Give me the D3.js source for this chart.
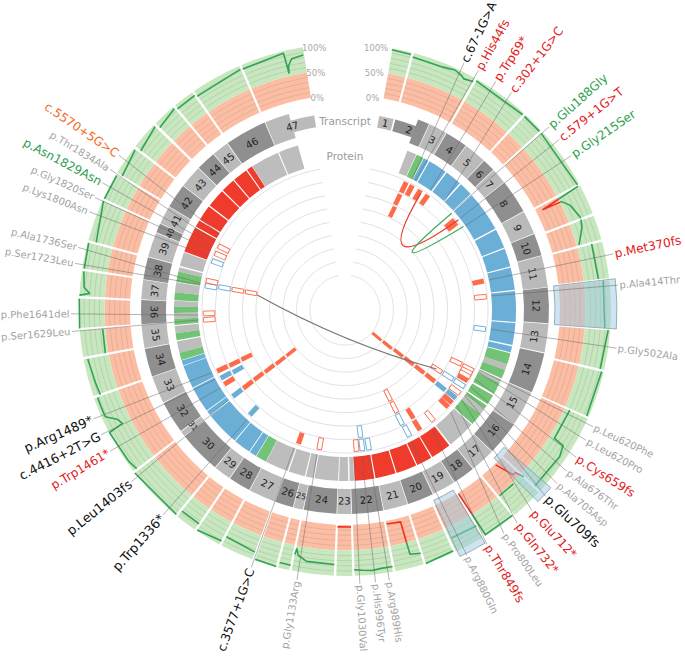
<!DOCTYPE html>
<html><head><meta charset="utf-8">
<style>html,body{margin:0;padding:0;background:#fff}svg{display:block}text{font-family:"DejaVu Sans",sans-serif}</style>
<script src="https://cdnjs.cloudflare.com/ajax/libs/d3/7.8.5/d3.min.js"></script>
</head><body><div id="c"></div>
<script>
// exon end angles in degrees (exon n runs from its start to its end)
const exonStarts = [10,14.8,24.5,29.9,36.5,43,46.8,51.4,61.2,68.1,74.6,83.7,93.9,102.3,114,124.2,134,141.2,147.7,154.5,162.2,169.2,178.2,182.4,191.9,194.8,200.2,208,214.5,219.6,231.9,233.6,243,251,259.2,266,273,278.7,285.2,292.4,295.2,300.5,307.6,314.2,320,324.9,337];
const exonEnds   = [14.3,24.3,29.7,36.3,42.8,46.6,51.2,61,67.9,74.4,83.5,93.7,102,113.8,124,133.8,141,147.5,154.3,162,169,178,182.2,191.7,194.6,200,207.8,214.3,219.4,231.7,233.4,242.8,250.8,259,265.8,272.8,278.5,285,292.2,295,300.3,307.4,314,319.8,324.7,336.8,351];
const utrRanges = [[10,14.3],[14.8,21],[344,351]];

const proteinGrey = [[21.4,24.6],[108.5,110.5],[114,115.3],[125.3,127.5],[132.2,141.8],[176.9,178.4],[178.9,182],[182.3,190.3],[190.6,193.2],[193.6,199.2],[199.6,207.5],[255.5,259.4],[262.2,264.6],[267,269],[271.2,273.1],[276,279.3],[283,284.5],[285,289.7],[327.1,336.9],[337.3,344]];
const proteinGreen = [[24.8,27.3],[104.7,108.5],[110.5,113.6],[115.3,119.3],[120,123.4],[124,125.3],[127.5,131.8],[207.6,211.2],[253,255.5],[259.8,262.2],[265,267],[269,271.2],[273.3,276],[279.5,283]];
const proteinBlue = [[27.5,29.2],[29.6,36],[36.5,42.2],[42.7,47.3],[47.8,61.5],[62,68.6],[69,75.2],[75.6,83.2],[83.6,94],[94.4,101.8],[102.3,104.4],[211.4,213.8],[214.1,219.9],[220.2,231.8],[232.1,233.7],[234,242.7],[243,250.9],[251.1,252.8]];
const proteinRed = [[142.4,149.3],[149.7,155],[155.4,162.4],[162.8,169.7],[170.1,176.7],[290,298.8],[299.2,301.6],[302,307.2],[307.7,314],[314.4,319.2],[319.6,324.7],[325.1,327]];

const coverageBands = [[10.2,14.6],[14.9,29.4],[29.7,42.4],[42.7,47.5],[47.8,61.7],[62,68.8],[69.1,74.7],[75,83.2],[83.5,94],[94.3,103.1],[103.4,113.8],[114,132.9],[133.2,140.5],[140.8,148.4],[148.7,155.5],[155.8,162.4],[162.7,169.2],[169.5,178],[178.3,182],[182.3,191.7],[192,194.7],[195,199.9],[200.3,207.8],[208.1,214],[214.3,219.2],[219.5,232.3],[232.6,250.7],[251,259.4],[259.7,265.7],[266,272.6],[272.9,278.6],[278.9,284.8],[285.1,294.4],[294.7,300.7],[301,307.6],[307.9,314.1],[314.5,319.9],[320.2,325],[325.3,336.7],[337,351]];
const coverageTicks = [0,10,20,30,40,50,60,70,80,90,100];

const coverageRuns = [
 [[10.2,97],[14.5,96]],
 [[15,92],[22,92],[24.6,96],[26.4,92],[27.2,88],[29.3,92]],
 [[29.8,96],[42.3,96]],
 [[42.8,96],[47.4,96]],
 [[48,96],[61.7,96]],
 [[62,96],[63.1,14],[63.4,53],[65,65],[68.3,74],[68.7,74]],
 [[69,74],[70.6,71],[72,65],[74.1,56],[74.5,55]],
 [[75,79],[83,79]],
 [[83.5,88],[94,89]],
 [[94.3,96],[103,92]],
 [[103.5,96],[113.7,96]],
 [[114,61],[121.5,60],[121.9,82],[124.3,88],[132.8,86]],
 [[133,58],[133.6,41],[134.4,40],[135.8,2]],
 [[135.9,53],[140.2,52]],
 [[140.8,98],[148,98],[148.1,56],[148.3,2]],
 [[148.7,74],[155,72]],
 [[155.8,96],[162.3,100]],
 [[162.7,78],[165.1,74],[165.2,45],[165.3,8],[169,6]],
 [[169.5,90],[172,90],[174,92],[176,90],[178,88]],
 [[178.4,4],[182,4]],
 [[182.4,78],[188.7,77],[190.8,68],[191.4,56],[191.6,68]],
 [[192,90],[194.5,90]],
 [[195,99],[199.8,98]],
 [[200.4,85],[207.6,80]],
 [[208.1,92],[213.9,98]],
 [[214.3,86],[219,86]],
 [[219.5,98],[232.2,100]],
 [[232.7,92],[235,96],[242.5,99],[243,68],[244.4,74],[246,93],[248.5,93],[250.5,93]],
 [[250.9,86],[253.6,88],[259.2,92]],
 [[259.8,56],[265.5,55]],
 [[266,100],[272.4,100]],
 [[273.2,100],[273.7,80],[275,92],[278.4,96]],
 [[279,96],[284.7,98]],
 [[285.2,84],[294.3,98]],
 [[294.8,98],[300.5,98]],
 [[301,88],[307.3,96]],
 [[307.9,86],[314,96]],
 [[314.6,88],[319.7,96]],
 [[320.2,92],[325,92]],
 [[325.3,88],[336.5,93]],
 [[337,92],[346.5,96],[346.6,80],[346.7,56],[347,70],[348,82],[350.7,85]]
];

const highlightBoxes = [[83.4,94],[130.8,134.8],[149,155]];

// mark kinds: o orange filled, b blue filled, O orange hollow, B blue hollow
const markAngles = [25.6,28.4,32.2,35.8,25.5,25.8,50.6,52,78.2,84.6,97.8,115,115.4,116.8,118.3,120,122.8,122.7,122.7,130,129.6,128.8,128.7,128.6,128.5,128.6,128.5,126,130.9,133.2,141.4,148,147.7,152.9,153.4,153.1,153.2,170.2,172.9,175.3,173,190.5,199.2,222.2,232.4,232.4,232.4,232.2,231.9,231.9,238.4,241.2,244.4,240.9,244.3,244.4,266,268.6,279.9,280.4,280.4,280.4,282,290.3,293.6,296.8];
const markTracks = [7,7,7,7,6,5,7,7,7,7,7,6,7,7,7,7,5,6,7,0,1,2,3,4,5,6,7,7,7,7,7,7,6,7,6,5,4,7,7,7,6,7,7,7,7,6,5,4,3,2,7,7,7,6,6,5,7,7,7,6,5,4,7,7,7,7];
const markKinds  = ["o","o","o","o","o","o","o","o","o","O","B","O","O","O","O","o","O","B","B","o","o","o","o","o","o","b","b","O","o","o","O","o","o","B","B","O","O","B","B","O","B","O","o","b","b","o","o","o","o","o","o","b","o","b","o","o","O","O","B","B","O","O","O","B","O","O"];

const linkEnds = [[33,139,51.5,145,"#e8402a"],[47.8,144,54.8,145,"#41ab5d"],[279.7,89,122.8,109,"#777777"]];

const variantNames = ["c.67-1G>A","p.His44fs","p.Trp69*","c.302+1G>C","p.Glu188Gly","c.579+1G>T","p.Gly215Ser","p.Met370fs","p.Ala414Thr","p.Gly502Ala","p.Leu620Phe","p.Leu620Pro","p.Cys659fs","p.Ala676Thr","p.Ala705Asp","p.Glu709fs","p.Glu712*","p.Gln732*","p.Pro800Leu","p.Thr849fs","p.Arg880Gln","p.Arg989His","p.His996Tyr","p.Gly1030Val","p.Gly1133Arg","c.3577+1G>C","p.Trp1336*","p.Leu1403fs","p.Trp1461*","c.4416+2T>G","p.Arg1489*","p.Ser1629Leu","p.Phe1641del","p.Ser1723Leu","p.Ala1736Ser","p.Lys1800Asn","p.Gly1820Ser","p.Asn1829Asn","p.Thr1834Ala","c.5570+5G>C"];
const variantKinds = ["k","r","r","r","g","r","g","r","n","n","n","n","r","n","n","k","r","r","n","r","n","n","n","n","n","k","k","k","r","k","k","n","n","n","n","n","n","g","n","o"];
const variantLabelAngles = [25.7,29.1,33.4,37.4,48.1,51.5,55.7,78.2,84.8,98,115.2,118.4,122.5,126,129.3,132.9,137,141.1,144.6,148.8,153.6,170.7,173.6,176.9,190.1,200,221.6,231.2,239,242.9,246.6,265.5,269.2,279.8,283.2,291,294.2,297.7,300.9,304.4];
const variantInnerAngles = [27.1,28.5,35.5,42.5,47.5,51.5,55,78.2,84.5,97.5,114,115,118,121.5,124,125.5,127.5,130.5,134,143.7,153.2,170.6,173.4,176.5,191,200.3,221.8,232.3,238,241.9,244.8,266.1,268,280,280.5,291.5,294.1,296,297.8,301.2];

const tickLabels = ["0%","50%","100%"];
const tickValues = [0,50,100];
const trackLabels = ["Transcript","Protein"];

const W=685,H=656,cx=345,cy=310;
const ang = d3.scaleLinear().domain([0,360]).range([0,2*Math.PI]);
const covR = d3.scaleLinear().domain([0,100]).range([215,266]);
const trackR = d3.scaleLinear().domain([0,7]).range([41.5,136]);
const ringR = d3.scaleLinear().domain([0,8]).range([35,143]);
const arc = d3.arc();
const pol=(a,r)=>[r*Math.sin(ang(a)),-r*Math.cos(ang(a))];
const svg=d3.select("#c").append("svg").attr("width",W).attr("height",H);
const g=svg.append("g").attr("transform",`translate(${cx},${cy})`);
const arcP=(a0,a1,r0,r1)=>arc({startAngle:ang(a0),endAngle:ang(a1),innerRadius:r0,outerRadius:r1});
const bandPad=0.12;

// inner rings
g.append("g").selectAll("path").data(d3.range(0,9)).join("path")
 .attr("d",d=>d3.line()(d3.range(10,350.5,1).map(a=>pol(a,ringR(d)))))
 .attr("fill","none").attr("stroke",d=>d>=7?"#dfe1ea":"#e0e0e0").attr("stroke-width",1);

// coverage bands
const cov=g.append("g");
cov.selectAll(".o").data(coverageBands).join("path").attr("d",d=>arcP(d[0]+bandPad,d[1]-bandPad,covR(0),covR(50))).attr("fill","#fdbda3");
cov.selectAll(".gb").data(coverageBands).join("path").attr("d",d=>arcP(d[0]+bandPad,d[1]-bandPad,covR(50),covR(100))).attr("fill","#c7e7bf");
coverageTicks.slice(1,10).forEach(t=>{
 if(t===50)return;
 cov.append("g").selectAll("path").data(coverageBands).join("path")
  .attr("d",d=>d3.line()(d3.range(d[0]+bandPad,d[1]-bandPad,0.5).concat([d[1]-bandPad]).map(a=>pol(a,covR(t)))))
  .attr("fill","none").attr("stroke","#8a8a8a").attr("stroke-opacity",.42).attr("stroke-width",.6);
});

// coverage line, split at 50%
const defs=svg.append("defs");
defs.append("clipPath").attr("id","hi").append("path").attr("d",arcP(0,360,covR(50),covR(100)+6));
defs.append("clipPath").attr("id","lo").append("path").attr("d",arcP(0,360,covR(0)-4,covR(50)));
const line=d3.lineRadial().angle(d=>ang(d[0])).radius(d=>covR(d[1]));
[["hi","#31a354"],["lo","#ee3024"]].forEach(([id,col])=>{
 g.append("g").attr("clip-path",`url(#${id})`).selectAll("path").data(coverageRuns).join("path")
  .attr("d",line).attr("fill","none").attr("stroke",col).attr("stroke-width",1.6).attr("stroke-linejoin","round");
});

// transcript
const exons=exonEnds.map((e,i)=>({n:i+1,s:exonStarts[i],e}));
const isUtr=(s,e)=>utrRanges.some(u=>s>=u[0]&&e<=u[1]);
const exCol=d=>d.n%2?"#bababa":"#8f8f8f";
const tr=g.append("g");
tr.selectAll("path").data(exons).join("path").each(function(d){
 let p="";
 const cuts=utrRanges.flatMap(u=>u).filter(c=>c>d.s&&c<d.e);
 const pts=[d.s,...cuts,d.e];
 for(let i=0;i<pts.length-1;i++){
  const thin=isUtr(pts[i],pts[i+1]);
  p+=arcP(pts[i],pts[i+1],thin?185:179,thin?197:204);
 }
 d3.select(this).attr("d",p).attr("fill",exCol(d));
});
tr.selectAll("text").data(exons).join("text").attr("text-anchor","middle").attr("dy","0.35em")
 .attr("font-size",d=>(d.e-d.s)<3?8:10).attr("fill","#222")
 .attr("transform",d=>{const a=(d.s+d.e)/2,[x,y]=pol(a,191);const rot=(a<90||a>270)?a:a-180;return `translate(${x},${y}) rotate(${rot})`;})
 .text(d=>d.n);

// protein
[[proteinGrey,"#bdbdbd"],[proteinGreen,"#72c375"],[proteinBlue,"#6baed6"],[proteinRed,"#ef3b2c"]].forEach(([arr,col])=>{
 g.append("g").selectAll("path").data(arr).join("path").attr("d",d=>arcP(d[0],d[1],147,171)).attr("fill",col);
});

// marks
const marks=markAngles.map((a,i)=>({a,t:markTracks[i],k:markKinds[i]}));
const markCol=k=>(k==="o"||k==="O")?"#fc6b4a":"#6baed6";
g.append("g").selectAll("rect").data(marks).join("rect")
 .attr("transform",d=>{const[x,y]=pol(d.a,trackR(d.t));return `translate(${x},${y}) rotate(${d.a})`;})
 .each(function(d){
   const hollow=d.k==="O"||d.k==="B", w=(hollow?2.6:3)+d.t*0.3;
   d3.select(this).attr("x",-w/2).attr("y",-5.8).attr("width",w).attr("height",11.6)
    .attr("fill",hollow?"#fff":markCol(d.k)).attr("stroke",hollow?markCol(d.k):"none").attr("stroke-width",.9);
 });

// links
g.append("g").selectAll("path").data(linkEnds).join("path").attr("d",d=>{
 const p=d3.path(),[x0,y0]=pol(d[0],d[1]),[x1,y1]=pol(d[2],d[3]);
 p.moveTo(x0,y0);
 const c=d[4]==="#777777"?[0,34]:[22,-25];
 p.quadraticCurveTo(c[0],c[1],x1,y1);
 return p.toString();
}).attr("fill","none").attr("stroke",d=>d[4]).attr("stroke-width",1.2);

// highlight boxes
g.append("g").selectAll("path").data(highlightBoxes).join("path")
 .attr("d",d=>arcP(d[0],d[1],210,272)).attr("fill","#9ecae1").attr("fill-opacity",.5)
 .attr("stroke","#71899a").attr("stroke-opacity",.8).attr("stroke-width",.8);

// variant labels
const kindCol={k:"#111111",r:"#e31a1c",g:"#2ea14f",n:"#a3a3a3",o:"#f46a24"};
const labelSize=d=>d.k==="n"?10:(d.k==="k"&&d.la>30&&d.n[0]==="p"?12.9:(d.k==="k"&&d.la>30?12.6:12.1));
const variants=variantNames.map((n,i)=>({n,k:variantKinds[i],la:variantLabelAngles[i],ia:variantInnerAngles[i]}));
g.append("g").selectAll("line").data(variants).join("line")
 .attr("x1",d=>pol(d.ia,147)[0]).attr("y1",d=>pol(d.ia,147)[1])
 .attr("x2",d=>pol(d.la,274)[0]).attr("y2",d=>pol(d.la,274)[1])
 .attr("stroke","#666").attr("stroke-opacity",.55).attr("stroke-width",.9);
g.append("g").selectAll("text").data(variants).join("text")
 .attr("font-size",d=>d.n==="c.3577+1G>C"?12.1:labelSize(d)).attr("fill",d=>kindCol[d.k]).attr("dy","0.35em")
 .attr("text-anchor",d=>d.la<180?"start":"end")
 .attr("transform",d=>{const[x,y]=pol(d.la,275.5);return `translate(${x},${y}) rotate(${d.la<180?d.la-90:d.la+90})`;})
 .text(d=>d.n);

// tick labels on both ends
tickValues.forEach((v,i)=>{
 const[xr,yr]=pol(10,covR(v)),[xl,yl]=pol(350.5,covR(v));
 g.append("text").attr("x",xr-3).attr("y",yr+3).attr("text-anchor","end").attr("font-size",8.5).attr("fill","#a8a8a8").text(tickLabels[i]);
 g.append("text").attr("x",xl+1).attr("y",yl+3).attr("text-anchor","start").attr("font-size",8.5).attr("fill","#a8a8a8").text(tickLabels[i]);
});
g.append("text").attr("x",0).attr("y",-189).attr("dy","0.35em").attr("text-anchor","middle").attr("font-size",10.5).attr("fill","#9a9a9a").text(trackLabels[0]);
g.append("text").attr("x",0).attr("y",-154).attr("dy","0.35em").attr("text-anchor","middle").attr("font-size",10.5).attr("fill","#9a9a9a").text(trackLabels[1]);
</script></body></html>
